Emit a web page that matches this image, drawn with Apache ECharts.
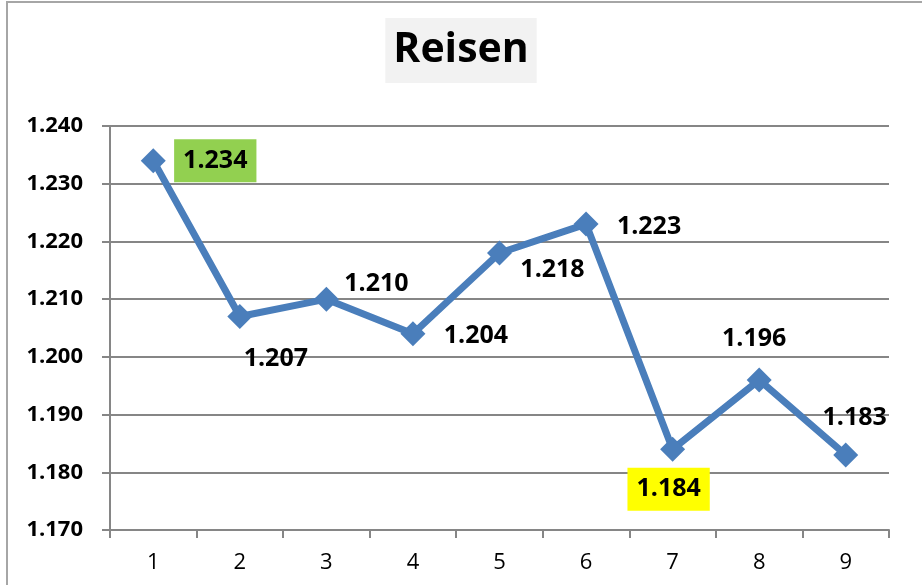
<!DOCTYPE html>
<html>
<head>
<meta charset="utf-8">
<script src="https://cdn.jsdelivr.net/npm/echarts@6/dist/echarts.min.js"></script>
<style>
  html, body { margin: 0; padding: 0; background: #fff; }
  #chart { width: 922px; height: 585px; }
</style>
</head>
<body>
<div id="chart"></div>
<script>
var categories = ['1', '2', '3', '4', '5', '6', '7', '8', '9'];
var values = [1.234, 1.207, 1.210, 1.204, 1.218, 1.223, 1.184, 1.196, 1.183];
var yTicks = [1.170, 1.180, 1.190, 1.200, 1.210, 1.220, 1.230, 1.240];

// label placement per point (pixel offsets from the marker)
var labelOffsets = [[62, 0], [36, 42], [50, -15], [63, 2], [53, 17], [63, 3], [-4, 40], [-5, -41], [9, -37]];
var labelBoxes = { 0: '#92d050', 6: '#ffff00' };

var chart = echarts.init(document.getElementById('chart'));

var seriesData = values.map(function (v, i) {
  var item = {
    value: v,
    label: { offset: labelOffsets[i] }
  };
  if (labelBoxes[i]) {
    item.label.backgroundColor = labelBoxes[i];
    item.label.padding = [9, 9, 9, 9];
  }
  return item;
});

var option = {
  backgroundColor: '#fff',
  animation: false,
  graphic: [{
    type: 'rect',
    shape: { x: 7, y: 2, width: 1000, height: 1000 },
    style: { fill: 'none', stroke: '#a6a6a6', lineWidth: 2 },
    silent: true
  }],
  title: {
    text: 'Reisen',
    left: 'center',
    top: 18,
    backgroundColor: '#f2f2f2',
    padding: [12, 8, 12, 8],
    textStyle: {
      fontFamily: 'Open Sans',
      fontWeight: 'bold',
      fontSize: 41,
      color: '#000'
    }
  },
  grid: {
    left: 110,
    right: 33,
    top: 126,
    bottom: 55
  },
  xAxis: {
    type: 'category',
    data: categories,
    boundaryGap: true,
    axisLine: { lineStyle: { color: '#868686', width: 2 } },
    axisTick: { show: true, length: 8, lineStyle: { color: '#868686', width: 2 } },
    axisLabel: {
      margin: 22,
      color: '#000',
      fontFamily: 'Open Sans',
      fontSize: 22
    },
    splitLine: { show: false }
  },
  yAxis: {
    type: 'value',
    min: yTicks[0],
    max: yTicks[yTicks.length - 1],
    interval: 0.01,
    axisLine: { show: true, lineStyle: { color: '#868686', width: 2 } },
    axisTick: { show: true, length: 8, lineStyle: { color: '#868686', width: 2 } },
    axisLabel: {
      margin: 27,
      color: '#000',
      fontFamily: 'Open Sans',
      fontWeight: 'bold',
      fontSize: 22,
      formatter: function (v) { return v.toFixed(3); }
    },
    splitLine: { show: true, lineStyle: { color: '#868686', width: 2 } }
  },
  series: [{
    type: 'line',
    data: seriesData,
    symbol: 'diamond',
    symbolSize: 25,
    lineStyle: { color: '#4a7ebb', width: 7 },
    itemStyle: { color: '#4a7ebb' },
    label: {
      show: true,
      position: 'inside',
      color: '#000',
      fontFamily: 'Open Sans',
      fontWeight: 'bold',
      fontSize: 25,
      formatter: function (p) { return p.value.toFixed(3); }
    }
  }]
};

chart.setOption(option);
</script>
</body>
</html>
